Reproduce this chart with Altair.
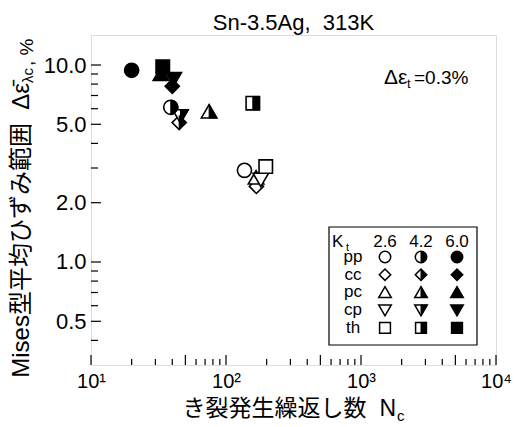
import altair as alt
import pandas as pd

# ---------------- data ----------------
loads = ["pp", "cc", "pc", "cp", "th"]
kts = ["2.6", "4.2", "6.0"]
# (cycles to crack initiation, Mises mean strain range %) per load type, per Kt
N_pp = [137, 39, 20]
E_pp = [2.92, 6.1, 9.4]
N_cc = [168, 45, 40]
E_cc = [2.42, 5.1, 7.8]
N_pc = [167, 75, 33]
E_pc = [2.68, 5.8, 9.0]
N_cp = [181, 46, 41]
E_cp = [2.62, 5.5, 8.5]
N_th = [197, 158, 34]
E_th = [3.05, 6.4, 9.8]

x_major_ticks = [10, 50, 100, 500, 1000, 5000, 10000]
x_minor_ticks = [20, 30, 40, 60, 70, 80, 90, 200, 300, 400, 600, 700, 800, 900,
                 2000, 3000, 4000, 6000, 7000, 8000, 9000]
x_label_values = [10, 100, 1000, 10000]
y_major_ticks = [0.5, 1, 2, 5, 10]
y_minor_ticks = [0.4, 0.6, 0.7, 0.8, 0.9, 3, 4, 6, 7, 8, 9]

title_text = "Sn-3.5Ag,\u00a0 313K"
xtitle_main = "き裂発生繰返し数\u00a0 N"
xtitle_sub = "c"
ytitle_main = "Mises型平均ひずみ範囲\u00a0 Δε̄"
ytitle_sub = "λc"
ytitle_end = ", %"

# ---------------- build tables ----------------
Ns = {"pp": N_pp, "cc": N_cc, "pc": N_pc, "cp": N_cp, "th": N_th}
Es = {"pp": E_pp, "cc": E_cc, "pc": E_pc, "cp": E_cp, "th": E_th}
rows = []
for ld in loads:
    for i, k in enumerate(kts):
        rows.append({"load": ld, "Kt": k, "N": Ns[ld][i], "eps": Es[ld][i]})
df = pd.DataFrame(rows)

FONT = "Liberation Sans, Arial, Noto Sans CJK JP"
W, H = 405, 330

full_paths = [
    "M-1,0A1,1,0,1,1,1,0A1,1,0,1,1,-1,0Z",  # circle
    "M0,-1L1,0L0,1L-1,0Z",                   # diamond
    "M0,-1L1.1,0.9L-1.1,0.9Z",               # triangle up
    "M-1.1,-0.9L1.1,-0.9L0,1Z",              # triangle down
    "M-0.95,-0.95L0.95,-0.95L0.95,0.95L-0.95,0.95Z",  # square
]
half_paths = [
    "M0,-1A1,1,0,0,1,0,1Z",
    "M0,-1L1,0L0,1Z",
    "M0,-1L1.1,0.9L0,0.9Z",
    "M0,-0.9L1.1,-0.9L0,1Z",
    "M0,-0.95L0.95,-0.95L0.95,0.95L0,0.95Z",
]
full_of = dict(zip(loads, full_paths))
half_of = dict(zip(loads, half_paths))
fill_of = dict(zip(kts, ["white", "white", "black"]))

xs = alt.Scale(type="log", domain=[10, 10000])
ys = alt.Scale(type="log", domain=[0.3, 14.2])

label_expr = ("'10' + (datum.value == 10 ? '¹' : datum.value == 100 ? '²' : "
              "datum.value == 1000 ? '³' : '⁴')")

x_axis = alt.Axis(values=x_label_values, labelExpr=label_expr, ticks=False,
                  domain=False, grid=False, title=None, labelFont=FONT,
                  labelFontSize=20, labelPadding=6, labelFlush=False, labelColor="black")
y_axis = alt.Axis(values=y_major_ticks, format=".1f", ticks=False,
                  domain=False, grid=False, title=None, labelFont=FONT,
                  labelFontSize=22, labelPadding=5, labelFlush=False, labelColor="black")

shape_full = alt.Shape("load:N", scale=alt.Scale(domain=loads, range=full_paths), legend=None)
shape_half = alt.Shape("load:N", scale=alt.Scale(domain=loads, range=half_paths), legend=None)
fill_kt = alt.Fill("Kt:N", scale=alt.Scale(domain=kts, range=["white", "white", "black"]), legend=None)

base = alt.Chart(df)
pts_full = base.mark_point(filled=True, size=200, stroke="black", strokeWidth=1.6, opacity=1).encode(
    x=alt.X("N:Q", scale=xs, axis=x_axis),
    y=alt.Y("eps:Q", scale=ys, axis=y_axis),
    shape=shape_full,
    fill=fill_kt,
)
pts_half = base.transform_filter(alt.datum.Kt == "4.2").mark_point(
    filled=True, size=200, fill="black", stroke="black", strokeWidth=1.0, opacity=1).encode(
    x=alt.X("N:Q", scale=xs, axis=x_axis),
    y=alt.Y("eps:Q", scale=ys, axis=y_axis),
    shape=shape_half,
)

# inward ticks
def xt(vals, length):
    return alt.Chart(pd.DataFrame({"N": vals})).mark_rule(color="black", strokeWidth=1.2).encode(
        x=alt.X("N:Q", scale=xs, axis=x_axis), y=alt.value(H), y2=alt.value(H - length))

def yt(vals, length):
    return alt.Chart(pd.DataFrame({"eps": vals})).mark_rule(color="black", strokeWidth=1.2).encode(
        y=alt.Y("eps:Q", scale=ys, axis=y_axis), x=alt.value(0), x2=alt.value(length))

ticks = [xt(x_major_ticks, 10), xt(x_minor_ticks, 6), yt(y_major_ticks, 10), yt(y_minor_ticks, 7)]

ONE = pd.DataFrame({"a": [0]})

def txt(text, x, y, size, align="left", baseline="alphabetic", angle=0):
    kw = dict(text=text, font=FONT, fontSize=size, align=align, baseline=baseline, color="black")
    if angle:
        kw["angle"] = angle
    return alt.Chart(ONE).mark_text(**kw).encode(x=alt.value(x), y=alt.value(y))

def sym(path, x, y, fill, size, sw):
    return alt.Chart(ONE).mark_point(shape=path, filled=True, fill=fill, stroke="black",
                                     strokeWidth=sw, size=size, opacity=1).encode(
        x=alt.value(x), y=alt.value(y))

texts = [
    txt(title_text, W / 2, -5, 22, align="center"),
    txt("Δε", 293, 49, 21),
    txt("t", 316, 53, 13),
    txt("=0.3%", 323, 49, 19),
    txt(xtitle_main, 305, 381, 23, align="right"),
    txt(xtitle_sub, 306, 386, 15),
    txt(ytitle_main, -62, 48, 24, align="right", angle=270),
    txt(ytitle_sub, -58, 48, 15, angle=270),
    txt(ytitle_end, -58, 31, 19, angle=270),
]

# inset legend
box = alt.Chart(ONE).mark_rect(fill="white", stroke="black", strokeWidth=1.2).encode(
    x=alt.value(238), x2=alt.value(386), y=alt.value(192), y2=alt.value(310))

col_x = [294, 330, 366]
row_y0, row_dy = 222, 17.7
legend_layers = [box]
for c, k in enumerate(kts):
    legend_layers.append(txt(k, col_x[c], 212, 17, align="center"))
legend_layers += [txt("K", 241, 212, 17), txt("t", 255, 216, 11)]
for r, ld in enumerate(loads):
    ly = row_y0 + r * row_dy
    legend_layers.append(txt(ld, 262, ly, 17, align="center", baseline="middle"))
    for c, k in enumerate(kts):
        legend_layers.append(sym(full_of[ld], col_x[c], ly, fill_of[k], 130, 1.5))
        if k == "4.2":
            legend_layers.append(sym(half_of[ld], col_x[c], ly, "black", 130, 1.0))

chart = alt.layer(
    pts_full, pts_half, *ticks, *texts, *legend_layers
).resolve_scale(shape="independent", fill="independent").properties(
    width=W, height=H, autosize="none",
    padding={"left": 91, "top": 35, "right": 26, "bottom": 62},
).configure_view(stroke="black", strokeWidth=1.6).configure(background="white")

chart.save("out.html", embed_options={"renderer": "svg", "actions": False})
